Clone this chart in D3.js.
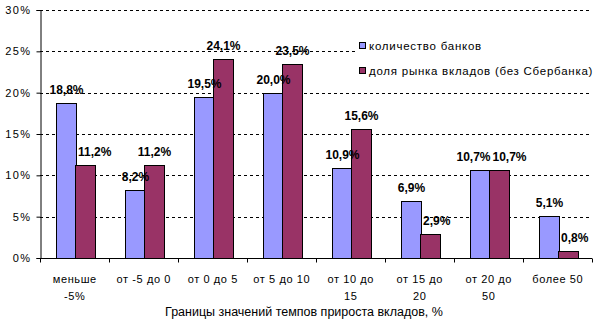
<!DOCTYPE html>
<html><head><meta charset="utf-8">
<script src="https://cdn.jsdelivr.net/npm/d3@7/dist/d3.min.js"></script>
<style>
body{margin:0;background:#fff;}
text{font-family:Arial,"Liberation Sans",sans-serif;fill:#000;}
</style></head>
<body><svg id="c" width="611" height="329"></svg>
<script>
const categories = [["меньше","-5%"],["от -5 до 0"],["от 0 до 5"],["от 5 до 10"],["от 10 до","15"],["от 15 до","20"],["от 20 до","50"],["более 50"]];
const seriesNames = ["количество банков","доля рынка вкладов (без Сбербанка)"];
const banks = [18.8, 8.2, 19.5, 20.0, 10.9, 6.9, 10.7, 5.1];
const share = [11.2, 11.2, 24.1, 23.5, 15.6, 2.9, 10.7, 0.8];
const yTicks = [0, 5, 10, 15, 20, 25, 30];
const colors = ["#9999FF", "#993366"];
const axisTitle = "Границы значений темпов прироста вкладов, %";

const svg = d3.select("#c");
const L = 40, R = 592, T = 10, B = 258;
const x0 = d3.scaleBand().domain(d3.range(categories.length)).range([L, R]).padding(0);
const y = d3.scaleLinear().domain([0, 30]).range([B, T]);
const step = x0.bandwidth();
const x1 = d3.scaleBand().domain([0, 1]).range([15.5, 15.5 + 39]).padding(0);

// gridlines
svg.append("g").selectAll("line").data(yTicks.filter(d => d > 0)).join("line")
  .attr("x1", L).attr("x2", R).attr("y1", d => Math.round(y(d)) + 0.5).attr("y2", d => Math.round(y(d)) + 0.5)
  .attr("stroke", "#000").attr("stroke-dasharray", "3,3").attr("shape-rendering", "crispEdges");

const fmt = v => v.toFixed(1).replace(".", ",") + "%";
const series = [banks, share];
const g = svg.append("g");
const barL = (i, s) => Math.round(x0(i) + x1(s)) + 0.5;
const barW = Math.round(x1.bandwidth());
series.forEach((vals, s) => {
  g.selectAll(null).data(vals).join("rect")
    .attr("x", (d, i) => barL(i, s))
    .attr("y", d => Math.round(y(d)) + 0.5)
    .attr("width", barW)
    .attr("height", d => Math.round(y(0)) - Math.round(y(d)))
    .attr("fill", colors[s]).attr("stroke", "#000").attr("stroke-width", 1);
});
// data labels with simple overlap avoidance
categories.forEach((c, i) => {
  const mk = (s) => {
    const v = series[s][i];
    const t = g.append("text").attr("y", y(v) - 9).attr("font-size", "12px")
      .attr("font-weight", "bold").attr("text-anchor", "start").text(fmt(v));
    const w = t.node().getComputedTextLength();
    const cx = barL(i, s) + barW / 2;
    return {t, w, left: cx - w / 2, base: y(v) - 9, top: y(v) - 9 - 9};
  };
  const a = mk(0), b = mk(1);
  const blueRight = barL(i, 0) + barW;
  if (y(series[0][i]) < b.base && b.left < blueRight) b.left = blueRight + 1.5;
  const vOverlap = !(a.base < b.top || b.base < a.top);
  if (vOverlap && a.left + a.w > b.left - 2) {
    b.left = Math.max(b.left, blueRight + 2);
    if (a.left + a.w > b.left - 2) a.left = b.left - 2 - a.w;
  }
  a.t.attr("x", a.left); b.t.attr("x", b.left);
});

// legend
const lg = svg.append("g");
lg.append("rect").attr("x", 355).attr("y", 33).attr("width", 245).attr("height", 52).attr("fill", "#fff");
seriesNames.forEach((n, i) => {
  const cy = 46 + i * 25;
  lg.append("rect").attr("x", 359.5).attr("y", cy - 3.5).attr("width", 6).attr("height", 6)
    .attr("fill", colors[i]).attr("stroke", "#000");
  lg.append("text").attr("x", 369).attr("y", cy + 4).attr("font-size", "11.5px")
    .attr("letter-spacing", "0.75px").text(n);
});

// axes
const yAxis = d3.axisLeft(y).tickValues(yTicks).tickSize(4).tickFormat(d => d + "%");
const ya = svg.append("g").attr("transform", `translate(${L + 0.5},0)`).call(yAxis);
ya.selectAll("text").attr("font-size", "11px").attr("font-family", "Arial")
  .attr("letter-spacing", "1.4px").attr("x", -9);
ya.select(".domain").attr("stroke", "#000");
const xa = svg.append("g").attr("transform", `translate(0,${B + 0.5})`);
xa.append("line").attr("x1", L).attr("x2", R).attr("stroke", "#000");
xa.selectAll(null).data(d3.range(categories.length + 1)).join("line")
  .attr("x1", i => Math.round(L + i * step) + 0.5).attr("x2", i => Math.round(L + i * step) + 0.5)
  .attr("y1", 0).attr("y2", 4).attr("stroke", "#000");
categories.forEach((c, i) => {
  c.forEach((line, j) => {
    xa.append("text").attr("x", x0(i) + step / 2 + 0.3).attr("y", 24 + j * 17)
      .attr("text-anchor", "middle").attr("font-size", "11px").attr("letter-spacing", "0.6px").text(line);
  });
});
svg.append("text").attr("x", 304).attr("y", 316).attr("text-anchor", "middle").attr("font-size", "12.5px").text(axisTitle);
</script></body></html>
